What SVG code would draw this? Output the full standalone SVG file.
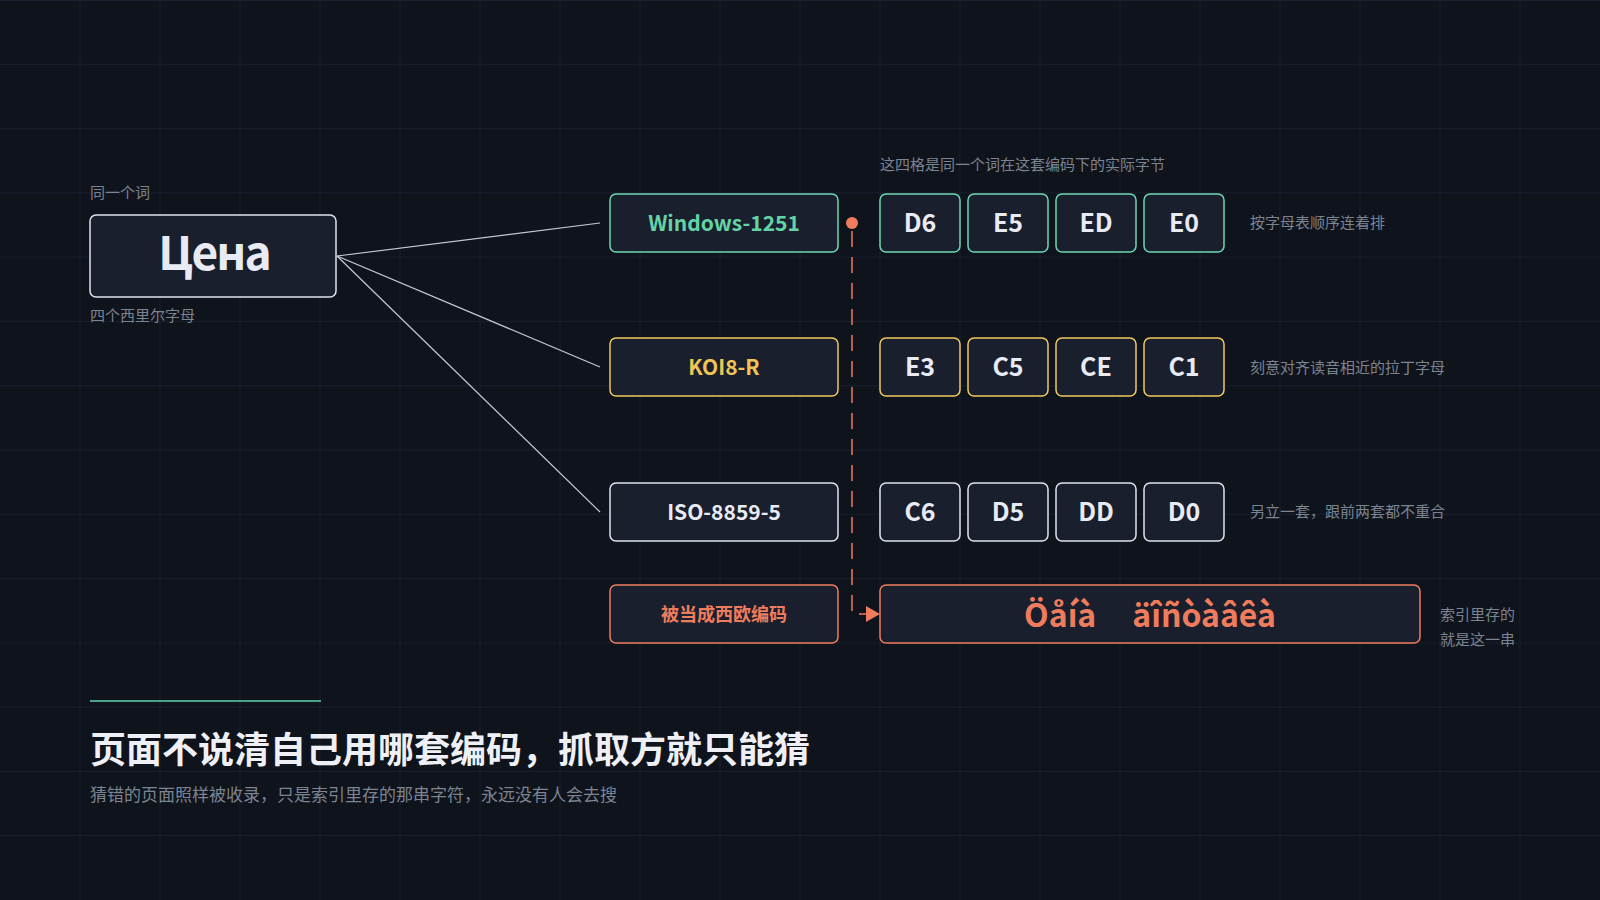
<svg xmlns="http://www.w3.org/2000/svg" width="1600" height="900" viewBox="0 0 1600 900">
  <defs>
    <style>
      text { font-family: "Noto Sans CJK SC", "Noto Sans", sans-serif; }
      .grid line { stroke: #1b2030; stroke-width: 1; }
      .box { fill: #1a1f2d; stroke-width: 1.5; }
      .note { fill: #7c8391; font-size: 15px; }
      .enc { font-size: 21px; font-weight: 700; text-anchor: middle; dominant-baseline: central; }
      .byte { fill: #e8ebf3; font-size: 25px; font-weight: 700; text-anchor: middle; dominant-baseline: central; }
      .teal { stroke: #6cd9b4; }
      .yellow { stroke: #f1c75e; }
      .white { stroke: #dfe3ee; }
      .orange { stroke: #ef7c5d; }
      .wire { stroke: #c5c9d3; stroke-width: 1.2; fill: none; }
    </style>
    <marker id="arrow" viewBox="0 0 14 16" refX="0" refY="8" markerWidth="14" markerHeight="16" markerUnits="userSpaceOnUse" orient="auto">
      <path d="M0,0 L14,8 L0,16 Z" fill="#ef7c5d"/>
    </marker>
  </defs>

  <rect width="1600" height="900" fill="#0f131c"/>

  <g class="grid">
    <line x1="0" y1="0.5" x2="1600" y2="0.5"/>
    <line x1="0" y1="64.3" x2="1600" y2="64.3"/>
    <line x1="0" y1="128.6" x2="1600" y2="128.6"/>
    <line x1="0" y1="192.9" x2="1600" y2="192.9"/>
    <line x1="0" y1="257.1" x2="1600" y2="257.1"/>
    <line x1="0" y1="321.4" x2="1600" y2="321.4"/>
    <line x1="0" y1="385.7" x2="1600" y2="385.7"/>
    <line x1="0" y1="450" x2="1600" y2="450"/>
    <line x1="0" y1="514.3" x2="1600" y2="514.3"/>
    <line x1="0" y1="578.6" x2="1600" y2="578.6"/>
    <line x1="0" y1="642.9" x2="1600" y2="642.9"/>
    <line x1="0" y1="707.1" x2="1600" y2="707.1"/>
    <line x1="0" y1="771.4" x2="1600" y2="771.4"/>
    <line x1="0" y1="835.7" x2="1600" y2="835.7"/>
    <line x1="80" y1="0" x2="80" y2="900"/>
    <line x1="160" y1="0" x2="160" y2="900"/>
    <line x1="240" y1="0" x2="240" y2="900"/>
    <line x1="320" y1="0" x2="320" y2="900"/>
    <line x1="400" y1="0" x2="400" y2="900"/>
    <line x1="480" y1="0" x2="480" y2="900"/>
    <line x1="560" y1="0" x2="560" y2="900"/>
    <line x1="640" y1="0" x2="640" y2="900"/>
    <line x1="720" y1="0" x2="720" y2="900"/>
    <line x1="800" y1="0" x2="800" y2="900"/>
    <line x1="880" y1="0" x2="880" y2="900"/>
    <line x1="960" y1="0" x2="960" y2="900"/>
    <line x1="1040" y1="0" x2="1040" y2="900"/>
    <line x1="1120" y1="0" x2="1120" y2="900"/>
    <line x1="1200" y1="0" x2="1200" y2="900"/>
    <line x1="1280" y1="0" x2="1280" y2="900"/>
    <line x1="1360" y1="0" x2="1360" y2="900"/>
    <line x1="1440" y1="0" x2="1440" y2="900"/>
    <line x1="1520" y1="0" x2="1520" y2="900"/>
  </g>

  <g id="connectors">
    <line class="wire" x1="337" y1="256" x2="600" y2="223"/>
    <line class="wire" x1="337" y1="256" x2="600" y2="367"/>
    <line class="wire" x1="337" y1="256" x2="600" y2="512"/>
    <path d="M852,231 V614 H866" fill="none" stroke="#ef7c5d" stroke-width="1.5" stroke-dasharray="16 10" marker-end="url(#arrow)"/>
    <circle cx="852" cy="223" r="6" fill="#ef7c5d"/>
  </g>

  <g id="word">
    <text class="note" x="90" y="198">同一个词</text>
    <rect class="box white" x="90" y="215" width="246" height="82" rx="6"/>
    <text x="214" y="250" fill="#e8ebf3" font-size="46" font-weight="700" letter-spacing="-2" text-anchor="middle" dominant-baseline="central">Цена</text>
    <text class="note" x="90" y="321">四个西里尔字母</text>
  </g>

  <text id="bytes-caption" class="note" x="880" y="170">这四格是同一个词在这套编码下的实际字节</text>

  <g id="row-win1251">
    <rect class="box teal" x="610" y="194" width="228" height="58" rx="6"/>
    <text class="enc" x="724" y="222" fill="#63d3a6">Windows-1251</text>
    <rect class="box teal" x="880" y="194" width="80" height="58" rx="6"/>
    <text class="byte" x="920" y="221">D6</text>
    <rect class="box teal" x="968" y="194" width="80" height="58" rx="6"/>
    <text class="byte" x="1008" y="221">E5</text>
    <rect class="box teal" x="1056" y="194" width="80" height="58" rx="6"/>
    <text class="byte" x="1096" y="221">ED</text>
    <rect class="box teal" x="1144" y="194" width="80" height="58" rx="6"/>
    <text class="byte" x="1184" y="221">E0</text>
    <text class="note" x="1250" y="228">按字母表顺序连着排</text>
  </g>

  <g id="row-koi8r">
    <rect class="box yellow" x="610" y="338" width="228" height="58" rx="6"/>
    <text class="enc" x="724" y="366" fill="#f0c456">KOI8-R</text>
    <rect class="box yellow" x="880" y="338" width="80" height="58" rx="6"/>
    <text class="byte" x="920" y="365">E3</text>
    <rect class="box yellow" x="968" y="338" width="80" height="58" rx="6"/>
    <text class="byte" x="1008" y="365">C5</text>
    <rect class="box yellow" x="1056" y="338" width="80" height="58" rx="6"/>
    <text class="byte" x="1096" y="365">CE</text>
    <rect class="box yellow" x="1144" y="338" width="80" height="58" rx="6"/>
    <text class="byte" x="1184" y="365">C1</text>
    <text class="note" x="1250" y="373">刻意对齐读音相近的拉丁字母</text>
  </g>

  <g id="row-iso">
    <rect class="box white" x="610" y="483" width="228" height="58" rx="6"/>
    <text class="enc" x="724" y="511" fill="#e8ebf3">ISO-8859-5</text>
    <rect class="box white" x="880" y="483" width="80" height="58" rx="6"/>
    <text class="byte" x="920" y="510">C6</text>
    <rect class="box white" x="968" y="483" width="80" height="58" rx="6"/>
    <text class="byte" x="1008" y="510">D5</text>
    <rect class="box white" x="1056" y="483" width="80" height="58" rx="6"/>
    <text class="byte" x="1096" y="510">DD</text>
    <rect class="box white" x="1144" y="483" width="80" height="58" rx="6"/>
    <text class="byte" x="1184" y="510">D0</text>
    <text class="note" x="1250" y="517">另立一套，跟前两套都不重合</text>
  </g>

  <g id="row-latin1">
    <rect class="box orange" x="610" y="585" width="228" height="58" rx="6"/>
    <text class="enc" x="724" y="613" fill="#ef7c5d" style="font-size:18px">被当成西欧编码</text>
    <rect class="box orange" x="880" y="585" width="540" height="58" rx="6"/>
    <text x="1150" y="613" fill="#ef7c5d" font-size="32" font-weight="700" text-anchor="middle" dominant-baseline="central">Öåíà<tspan dx="36">äîñòàâêà</tspan></text>
    <text class="note" x="1440" y="620">索引里存的</text>
    <text class="note" x="1440" y="645">就是这一串</text>
  </g>

  <g id="footer">
    <line x1="90" y1="701" x2="321" y2="701" stroke="#5fd3ac" stroke-width="1.5"/>
    <text x="90" y="763" fill="#eef0f6" font-size="36" font-weight="700">页面不说清自己用哪套编码，抓取方就只能猜</text>
    <text x="90" y="801" fill="#7c8391" font-size="17">猜错的页面照样被收录，只是索引里存的那串字符，永远没有人会去搜</text>
  </g>
</svg>
